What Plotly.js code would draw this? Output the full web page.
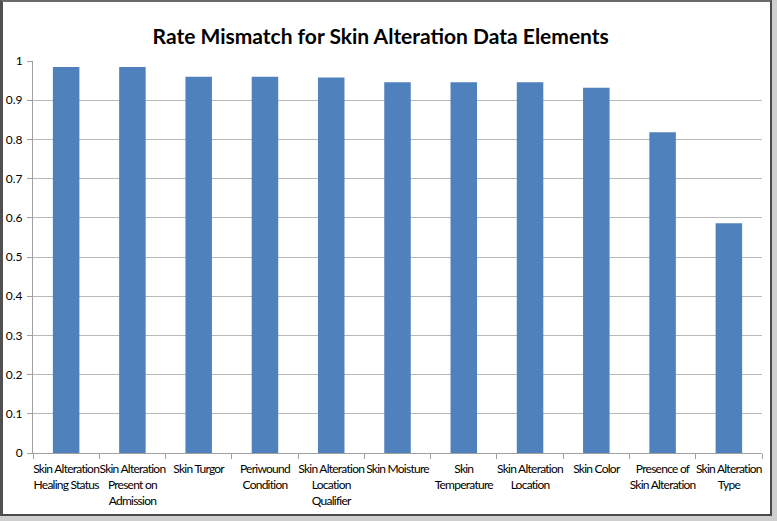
<!DOCTYPE html>
<html>
<head>
<meta charset="utf-8">
<script src="https://cdn.plot.ly/plotly-3.0.1.min.js"></script>
<style>
  html, body { margin: 0; padding: 0; background: #ffffff; }
  #wrap { position: relative; width: 777px; height: 521px; background: #c8c8c8; overflow: hidden; }
  #chart { position: absolute; left: 0; top: 0; width: 777px; height: 521px; }
  #frame { position: absolute; left: 0; top: 0; width: 772px; height: 516px;
           border-left: 3px solid #505050; border-top: 2px solid #6a6a6a;
           border-right: 2px solid #4a4a4a; border-bottom: 2px solid #4a4a4a;
           box-sizing: border-box; pointer-events: none; }
  #shadowR { position: absolute; left: 772px; top: 0; width: 5px; height: 521px; background: #cfcfcf; }
  #shadowB { position: absolute; left: 0; top: 516px; width: 777px; height: 5px; background: #cfcfcf; }
  #chart .xtick text { letter-spacing: -0.75px !important; }
</style>
</head>
<body>
<div id="wrap">
  <div id="chart"></div>
  <div id="shadowR"></div>
  <div id="shadowB"></div>
  <div id="frame"></div>
</div>
<script>
const categories = [
  "Skin Alteration<br>Healing Status",
  "Skin Alteration<br>Present on<br>Admission",
  "Skin Turgor",
  "Periwound<br>Condition",
  "Skin Alteration<br>Location<br>Qualifier",
  "Skin Moisture",
  "Skin<br>Temperature",
  "Skin Alteration<br>Location",
  "Skin Color",
  "Presence of<br>Skin Alteration",
  "Skin Alteration<br>Type"
];
const mismatchRate = [0.985, 0.985, 0.960, 0.960, 0.958, 0.946, 0.946, 0.946, 0.932, 0.818, 0.586];
const yTickValues = [0, 0.1, 0.2, 0.3, 0.4, 0.5, 0.6, 0.7, 0.8, 0.9, 1];
const yTickLabels = ["0", "0.1", "0.2", "0.3", "0.4", "0.5", "0.6", "0.7", "0.8", "0.9", "1"];
const chartTitle = "Rate Mismatch for Skin Alteration Data Elements";

const font = "Lato, 'Open Sans', sans-serif";

const data = [{
  type: "bar",
  x: categories,
  y: mismatchRate,
  marker: { color: "#4f81bd", line: { width: 0 } },
  hoverinfo: "x+y"
}];

const layout = {
  width: 777,
  height: 521,
  margin: { l: 33, r: 15, t: 61, b: 68, pad: 0 },
  paper_bgcolor: "#ffffff",
  plot_bgcolor: "#ffffff",
  bargap: 0.6,
  showlegend: false,
  title: {
    text: "<b>" + chartTitle + "</b>",
    font: { family: font, size: 21, color: "#000000" },
    x: 0.49, xanchor: "center",
    y: 1 - 37 / 521, yanchor: "middle"
  },
  xaxis: {
    type: "category",
    tickangle: 0,
    ticks: "outside",
    tickson: "boundaries",
    ticklen: 5,
    tickcolor: "#a0a0a0",
    showline: true,
    linecolor: "#a0a0a0",
    linewidth: 1,
    showgrid: false,
    ticklabelstandoff: 5,
    tickfont: { family: font, size: 12, color: "#000000" },
    automargin: false
  },
  yaxis: {
    range: [0, 1],
    tickvals: yTickValues,
    ticktext: yTickLabels,
    ticks: "outside",
    ticklen: 5,
    tickcolor: "#a0a0a0",
    showline: true,
    linecolor: "#a0a0a0",
    linewidth: 1,
    showgrid: true,
    gridcolor: "#b8b8b8",
    gridwidth: 1,
    zeroline: false,
    ticklabelstandoff: 2,
    tickfont: { family: font, size: 12, color: "#000000" },
    automargin: false
  }
};

Plotly.newPlot("chart", data, layout, { displayModeBar: false, staticPlot: true });
</script>
</body>
</html>
